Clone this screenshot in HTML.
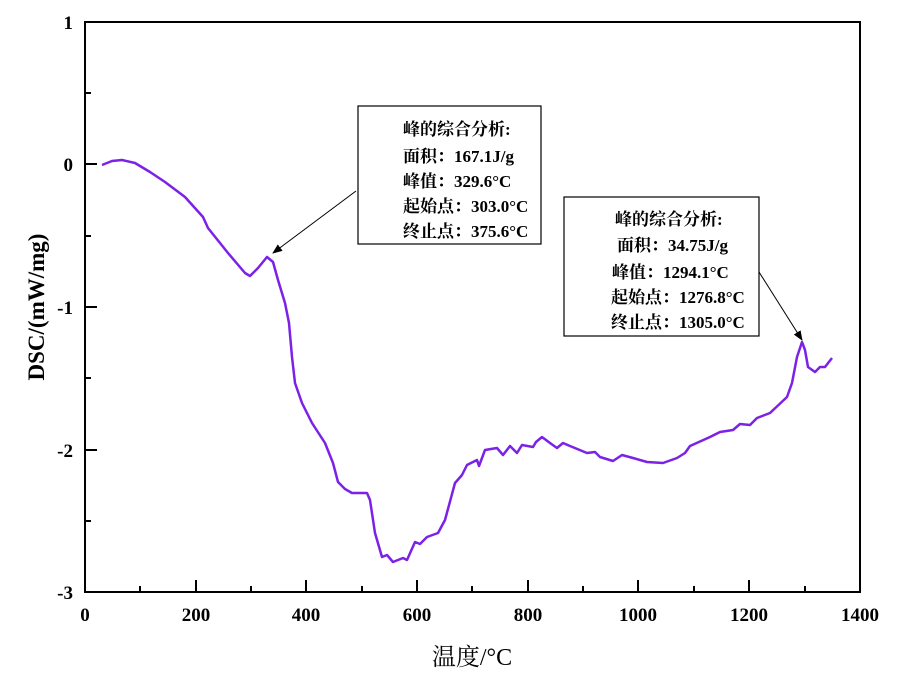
<!DOCTYPE html>
<html><head><meta charset="utf-8"><style>
html,body{margin:0;padding:0;background:#fff;}
svg{display:block;font-family:"Liberation Serif","Noto Serif CJK SC",serif;font-weight:bold;}
</style></head><body>
<svg width="900" height="674" viewBox="0 0 900 674" xmlns="http://www.w3.org/2000/svg">
<defs><marker id="ah" markerWidth="10" markerHeight="8" refX="9" refY="4" orient="auto" markerUnits="userSpaceOnUse"><path d="M0,0 L10,4 L0,8 z" fill="#000"/></marker></defs>
<rect x="85" y="22" width="775" height="570" fill="none" stroke="#000" stroke-width="2"/>
<g stroke="#000" stroke-width="2">
<line x1="85" y1="22" x2="97" y2="22"/><line x1="85" y1="93" x2="91" y2="93"/>
<line x1="85" y1="164" x2="97" y2="164"/><line x1="85" y1="236" x2="91" y2="236"/>
<line x1="85" y1="307" x2="97" y2="307"/><line x1="85" y1="378" x2="91" y2="378"/>
<line x1="85" y1="450" x2="97" y2="450"/><line x1="85" y1="521" x2="91" y2="521"/>
<line x1="196" y1="592" x2="196" y2="580"/><line x1="306" y1="592" x2="306" y2="580"/>
<line x1="417" y1="592" x2="417" y2="580"/><line x1="528" y1="592" x2="528" y2="580"/>
<line x1="638" y1="592" x2="638" y2="580"/><line x1="749" y1="592" x2="749" y2="580"/>
<line x1="140" y1="592" x2="140" y2="586"/><line x1="251" y1="592" x2="251" y2="586"/>
<line x1="362" y1="592" x2="362" y2="586"/><line x1="472" y1="592" x2="472" y2="586"/>
<line x1="583" y1="592" x2="583" y2="586"/><line x1="694" y1="592" x2="694" y2="586"/>
<line x1="805" y1="592" x2="805" y2="586"/>
</g>
<g font-size="19" text-anchor="end">
<text x="73" y="29">1</text><text x="73" y="171">0</text><text x="73" y="314">-1</text>
<text x="73" y="457">-2</text><text x="73" y="599">-3</text>
</g>
<g font-size="19" text-anchor="middle">
<text x="85" y="621">0</text><text x="196" y="621">200</text><text x="306" y="621">400</text>
<text x="417" y="621">600</text><text x="528" y="621">800</text><text x="638" y="621">1000</text>
<text x="749" y="621">1200</text><text x="860" y="621">1400</text>
</g>
<text x="472" y="665" font-size="24" text-anchor="middle" font-weight="normal">温度/°C</text>
<text transform="translate(44,307) rotate(-90)" font-size="23" text-anchor="middle">DSC/(mW/mg)</text>
<polyline fill="none" stroke="#7b22e6" stroke-width="2.5" stroke-linejoin="round" points="
102,165 112,161 122,160 135,163 150,172 165,182 185,197 203,217 208,228 228,253 245,273 250,276 258,268 267,257 273,262 278,280 285,303 289,323 292,357 295,383 302,403 312,423 325,443 333,463 338,482 345,489 352,493 367,493 370,500 375,533 382,557 387,555 393,562 403,558 407,560 415,542 420,544 427,537 438,533 445,520 455,483 462,475 467,465 477,460 479,466 485,450 497,448 503,455 510,446 517,453 522,445 533,447 536,442 542,437 550,443 557,448 563,443 570,446 587,453 595,452 600,457 613,461 622,455 633,458 647,462 663,463 677,458 685,453 690,446 710,437 720,432 733,430 740,424 750,425 757,418 770,413 787,397 792,383 797,357 802,342 805,350 808,367 815,372 820,367 825,367 832,358"/>
<rect x="358" y="106" width="183" height="138" fill="#fff" stroke="#000" stroke-width="1.2"/>
<g font-size="17">
<text x="403" y="135">峰的综合分析:</text>
<text x="403" y="162">面积：167.1J/g</text>
<text x="403" y="187">峰值：329.6°C</text>
<text x="403" y="212">起始点：303.0°C</text>
<text x="403" y="237">终止点：375.6°C</text>
</g>
<rect x="564" y="197" width="195" height="139" fill="#fff" stroke="#000" stroke-width="1.2"/>
<g font-size="17">
<text x="615" y="225">峰的综合分析:</text>
<text x="617" y="251">面积：34.75J/g</text>
<text x="612" y="278">峰值：1294.1°C</text>
<text x="611" y="303">起始点：1276.8°C</text>
<text x="611" y="328">终止点：1305.0°C</text>
</g>
<line x1="356" y1="191" x2="273" y2="253" stroke="#000" stroke-width="1" marker-end="url(#ah)"/>
<line x1="759" y1="272" x2="802" y2="340" stroke="#000" stroke-width="1" marker-end="url(#ah)"/>
</svg>
</body></html>
